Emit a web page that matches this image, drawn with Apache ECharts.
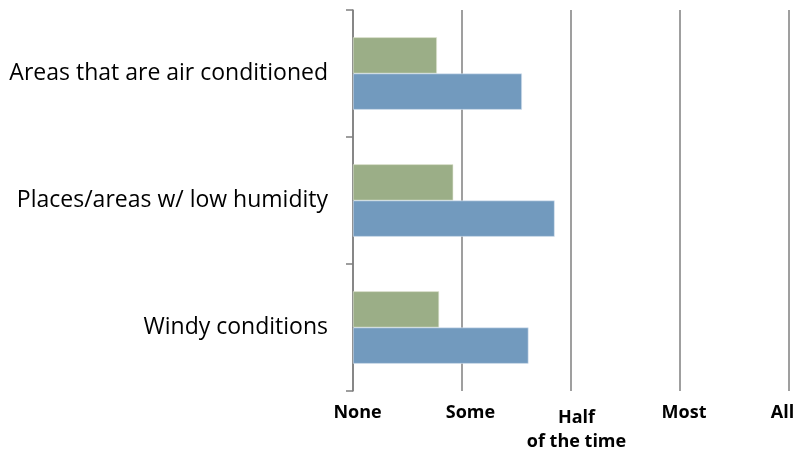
<!DOCTYPE html>
<html>
<head>
<meta charset="utf-8">
<script src="https://cdn.jsdelivr.net/npm/echarts@6/dist/echarts.min.js"></script>
<style>html,body{margin:0;padding:0;background:#fff}#c{width:796px;height:451px}</style>
</head>
<body>
<div id="c"></div>
<script>
const categories = ["Areas that are air conditioned", "Places/areas w/ low humidity", "Windy conditions"];
const greenValues = [0.77, 0.92, 0.79];
const blueValues = [1.55, 1.85, 1.61];
const tickLabels = ["None", "Some", "Half\nof the time", "Most", "All"];

const lblFont = {fontFamily: 'Open Sans', fontWeight: 'bold', fontSize: 18, color: '#000'};
// per-label horizontal nudges (style only)
const nudge = [[0, 0, 0, 9], [0, 0, 0, 17], [0, 0, 0, 11], [0, 0, 0, 8], [0, 13, 0, 0]];
const rich = {};
nudge.forEach((p, i) => {
  rich['s' + i] = {...lblFont, lineHeight: 24, padding: p};
  rich['a' + i] = {...lblFont, lineHeight: 34, padding: p};
  rich['b' + i] = {...lblFont, lineHeight: 14, padding: p};
});

const chart = echarts.init(document.getElementById('c'), null, {renderer: 'canvas'});
chart.setOption({
  animation: false,
  backgroundColor: '#ffffff',
  grid: {left: 353, right: 7, top: 10, bottom: 60, containLabel: false, outerBoundsMode: 'none'},
  xAxis: {
    type: 'value', min: 0, max: 4, interval: 1,
    axisLine: {show: false}, axisTick: {show: false},
    splitLine: {show: true, lineStyle: {color: '#7f7f7f', width: 1.5}},
    axisLabel: {
      margin: 10, verticalAlign: 'top',
      ...lblFont, lineHeight: 24,
      formatter: v => {
        const parts = tickLabels[v].split('\n');
        if (parts.length === 1) return '{s' + v + '|' + parts[0] + '}';
        return '{a' + v + '|' + parts[0] + '}\n{b' + v + '|' + parts[1] + '}';
      },
      rich: rich
    }
  },
  yAxis: {
    type: 'category', data: categories, inverse: true,
    axisLine: {show: true, lineStyle: {color: '#7f7f7f', width: 1.5}},
    axisTick: {show: true, length: 7, lineStyle: {color: '#7f7f7f', width: 1.5}},
    axisLabel: {margin: 25, fontFamily: 'Open Sans', fontSize: 23, color: '#000'}
  },
  series: [
    {type: 'bar', data: greenValues, barGap: '0%', barCategoryGap: '43%',
     itemStyle: {color: '#9bae87', borderColor: '#e4ead9', borderWidth: 0.6}},
    {type: 'bar', data: blueValues, barGap: '0%', barCategoryGap: '43%',
     itemStyle: {color: '#729abe', borderColor: '#dbe6f1', borderWidth: 0.6}}
  ]
});
</script>
</body>
</html>
